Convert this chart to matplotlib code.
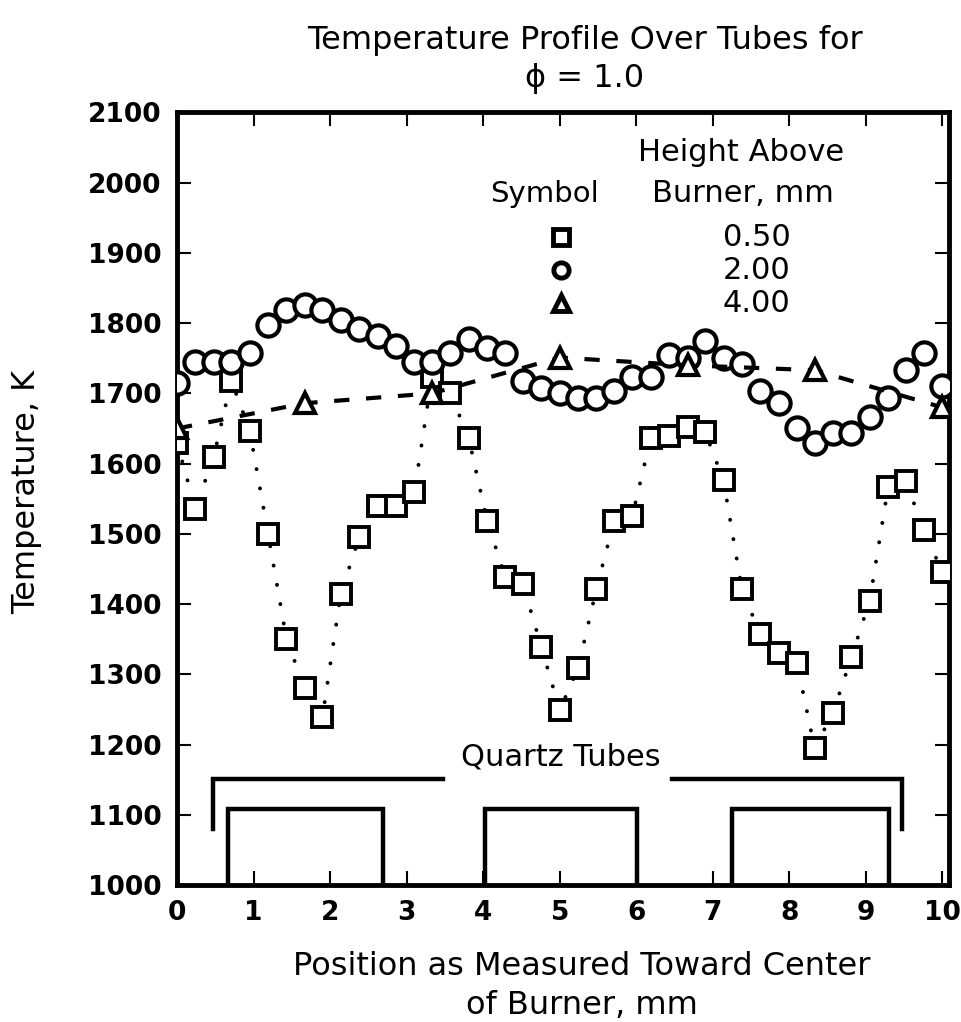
import matplotlib
matplotlib.use("Agg")
import matplotlib.pyplot as plt

# ---------------- data ----------------
# position across the burner, mm (same positions for the 0.50 and 2.00 mm runs)
pos = [0.00, 0.24, 0.48, 0.71, 0.95, 1.19, 1.43, 1.67, 1.90, 2.14, 2.38,
       2.62, 2.86, 3.10, 3.33, 3.57, 3.81, 4.05, 4.29, 4.52, 4.76, 5.00,
       5.24, 5.48, 5.71, 5.95, 6.19, 6.43, 6.67, 6.90, 7.14, 7.38, 7.62,
       7.86, 8.10, 8.33, 8.57, 8.81, 9.05, 9.29, 9.52, 9.76, 10.00]

# height above burner 0.50 mm
t_050 = [1630, 1536, 1610, 1718, 1647, 1500, 1350, 1280, 1239, 1415, 1495,
         1539, 1539, 1559, 1723, 1700, 1637, 1519, 1438, 1428, 1339, 1249,
         1309, 1422, 1518, 1526, 1637, 1640, 1652, 1645, 1576, 1421, 1357,
         1330, 1316, 1195, 1245, 1324, 1405, 1566, 1575, 1505, 1445]

# height above burner 2.00 mm
t_200 = [1715, 1744, 1744, 1744, 1757, 1797, 1819, 1826, 1818, 1804, 1792,
         1781, 1768, 1744, 1744, 1757, 1778, 1765, 1758, 1718, 1708, 1700,
         1694, 1694, 1704, 1723, 1723, 1754, 1751, 1775, 1751, 1742, 1704,
         1687, 1651, 1629, 1643, 1643, 1666, 1694, 1733, 1758, 1711]

# height above burner 4.00 mm
pos_400 = [0.00, 1.67, 3.33, 5.00, 6.67, 8.33, 10.00]
t_400 = [1650, 1686, 1700, 1751, 1740, 1733, 1680]

heights = ["0.50", "2.00", "4.00"]

# quartz tubes (left, right edges in mm)
tubes = [(0.66, 2.69), (4.02, 6.01), (7.25, 9.30)]

# ---------------- plot ----------------
plt.rcParams['font.family'] = 'DejaVu Sans'
plt.rcParams['lines.scale_dashes'] = False

fig = plt.figure(figsize=(9.62, 10.22), dpi=100)
ax = fig.add_axes([0.184, 0.134, 0.802, 0.756])

ax.plot(pos, t_050, color='k', linestyle=(0, (0.1, 14)), lw=2.8,
        dash_capstyle='round', marker='s', ms=14, mfc='white', mew=2.8,
        zorder=3)
ax.plot(pos, t_200, color='k', linestyle='none', marker='o', ms=16,
        mfc='white', mew=3, zorder=4)
ax.plot(pos_400, t_400, color='k', linestyle=(0, (11, 12)), lw=3,
        marker='^', ms=15, mfc='white', mew=3, zorder=5)

# tubes drawing
tube_top = 1108
for left, right in tubes:
    ax.plot([left, left, right, right], [1000, tube_top, tube_top, 1000],
            color='k', lw=3.2, solid_joinstyle='miter', zorder=2)
ax.plot([0.47, 0.47, 3.47], [1080, 1151, 1151], color='k', lw=3.2,
        solid_joinstyle='miter')
ax.plot([6.47, 9.47, 9.47], [1151, 1151, 1080], color='k', lw=3.2,
        solid_joinstyle='miter')
ax.text(5.02, 1183, "Quartz Tubes", ha='center', va='center', fontsize=22)

# legend by hand
ax.text(7.37, 2043, "Height Above", ha='center', va='center', fontsize=22)
ax.text(4.80, 1984, "Symbol", ha='center', va='center', fontsize=21)
ax.text(7.40, 1984, "Burner, mm", ha='center', va='center', fontsize=22)
leg_y = [1922, 1875, 1828]
for mk, yy, lab in zip(['s', 'o', '^'], leg_y, heights):
    ax.plot([5.02], [yy], color='k', marker=mk, ms=11, mfc='white', mew=3.5)
    ax.text(7.57, yy, lab, ha='center', va='center', fontsize=22)

ax.set_xlim(0, 10.08)
ax.set_ylim(1000, 2100)
ax.set_xticks(range(0, 11))
ax.set_yticks(range(1000, 2101, 100))
ax.tick_params(direction='in', length=10, width=1.5, top=True, right=True,
               labelsize=19, pad=11)
for lbl in ax.get_xticklabels() + ax.get_yticklabels():
    lbl.set_fontweight('bold')
for sp in ax.spines.values():
    sp.set_linewidth(3.5)

fig.text(585 / 962, 1 - 40 / 1022, "Temperature Profile Over Tubes for",
         ha='center', va='center', fontsize=23)
fig.text(585 / 962, 1 - 79 / 1022, "ϕ = 1.0", ha='center', va='center',
         fontsize=23)
fig.text(27 / 962, 1 - 492 / 1022, "Temperature, K", rotation=90,
         ha='center', va='center', fontsize=23)
fig.text(582 / 962, 1 - 966 / 1022, "Position as Measured Toward Center",
         ha='center', va='center', fontsize=23)
fig.text(582 / 962, 1 - 1005 / 1022, "of Burner, mm", ha='center',
         va='center', fontsize=23)

fig.savefig("out.png", dpi=100)
